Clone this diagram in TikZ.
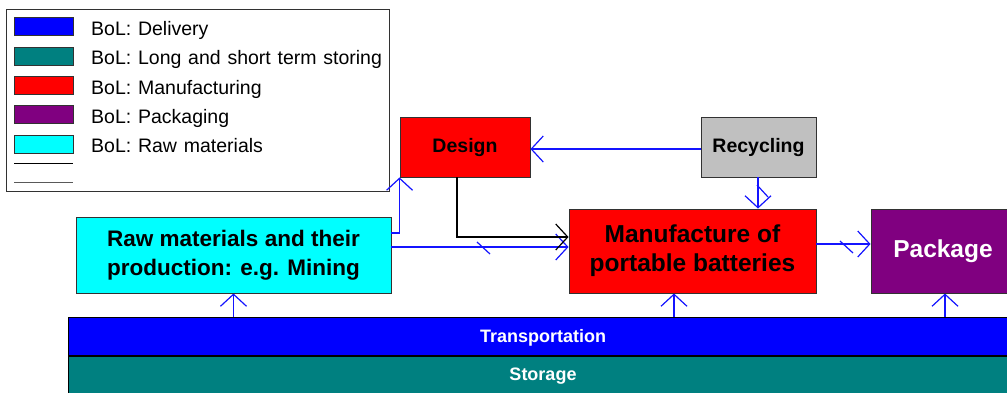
\documentclass[tikz,border=0pt]{standalone}
\usepackage{fontspec}
\setmainfont{Liberation Sans}
\newfontfamily\legendfont[WordSpace=1.25]{Liberation Sans}
\usetikzlibrary{arrows.meta,backgrounds,calc}

\definecolor{delblue}{RGB}{0,0,255}
\definecolor{stteal}{RGB}{0,128,128}
\definecolor{manred}{RGB}{255,0,0}
\definecolor{packpurple}{RGB}{128,0,128}
\definecolor{rawcyan}{RGB}{0,255,255}
\definecolor{recgrey}{RGB}{192,192,192}
\definecolor{edge}{RGB}{50,50,50}
\definecolor{flow}{RGB}{20,20,255}

\tikzset{
  box/.style={draw=edge, line width=0.9pt, align=center, inner sep=0pt, font=\bfseries},
  swatch/.style={draw=edge, line width=0.8pt, minimum width=59pt, minimum height=18pt, inner sep=0pt},
  legtext/.style={anchor=base west, inner sep=0pt, font=\legendfont\fontsize{19.5}{21}\selectfont},
  flowarr/.style={draw=flow, line width=1.2pt, -{Straight Barb[length=12pt,width=26pt,line width=1.2pt]}},
  blackarr/.style={draw=black, line width=1.2pt, -{Straight Barb[length=12pt,width=26pt,line width=1.2pt]}},
  tick/.style={draw=flow, line width=1.2pt},
  bar/.style={draw=black, line width=0.9pt, inner sep=0pt, text=white, text depth=0pt, font=\bfseries\fontsize{18}{20}\selectfont}
}

\begin{document}
\begin{tikzpicture}[x=1pt,y=-1pt]
\useasboundingbox (0,0) rectangle (1007,392);
\clip (0,0) rectangle (1007,392);

% legend
\node[draw=edge, line width=0.9pt, minimum width=383pt, minimum height=182pt, inner sep=0pt, anchor=north west] (leg) at (6,9) {};
\node[swatch, fill=delblue, anchor=north west] (s1) at (14,17) {};
\node[swatch, fill=stteal, anchor=north west] (s2) at (14,46.5) {};
\node[swatch, fill=manred, anchor=north west] (s3) at (14,76) {};
\node[swatch, fill=packpurple, anchor=north west] (s4) at (14,105) {};
\node[swatch, fill=rawcyan, anchor=north west] (s5) at (14,134.5) {};
\node[legtext] (t1) at (91,35) {BoL: Delivery};
\node[legtext] (t2) at (91,64.5) {BoL: Long and short term storing};
\node[legtext] (t3) at (91,94) {BoL: Manufacturing};
\node[legtext] (t4) at (91,123) {BoL: Packaging};
\node[legtext] (t5) at (91,152.5) {BoL: Raw materials};
\coordinate (l1a) at (14,163); \coordinate (l1b) at (73,163);
\coordinate (l2a) at (14,182); \coordinate (l2b) at (73,182);
\draw[black, line width=0.9pt] (l1a) -- (l1b);
\draw[black!65, line width=0.9pt] (l2a) -- (l2b);

% process boxes
\node[box, fill=manred, minimum width=130pt, minimum height=60pt, font=\bfseries\fontsize{19.5}{22}\selectfont] (des) at (465,147) {Design};
\node[box, fill=recgrey, minimum width=115pt, minimum height=60pt, font=\bfseries\fontsize{19.5}{22}\selectfont] (rec) at (758.5,147) {Recycling};
\node[box, fill=manred, minimum width=247pt, minimum height=84pt, font=\bfseries\fontsize{24.5}{29}\selectfont] (man) at (692.5,251) {Manufacture of\\portable batteries};
\node[box, fill=rawcyan, minimum width=315pt, minimum height=76pt, font=\bfseries\fontsize{22.5}{29}\selectfont] (raw) at (233.5,255) {Raw materials and their\\production: e.g. Mining};
\node[box, fill=packpurple, text=white, minimum width=144pt, minimum height=84pt, font=\bfseries\fontsize{24.5}{29}\selectfont] (pkg) at (943,251) {Package};

% transport and storage bars
\node[bar, fill=delblue, minimum width=950pt, minimum height=38pt] (tr) at (543,336) {Transportation};
\node[bar, fill=stteal, minimum width=950pt, minimum height=37pt] (st) at (543,374.5) {Storage};

% flows fed from the bars
\begin{scope}[on background layer]
\draw[flowarr] (raw.south |- st.north) -- (raw.south);
\draw[flowarr] ([xshift=-18.5pt]man.south |- st.north) -- ([xshift=-18.5pt]man.south);
\draw[flowarr] ([xshift=2pt]pkg.south |- st.north) -- ([xshift=2pt]pkg.south);
\end{scope}

% material and information flows
\draw[flowarr] ([yshift=22pt]raw.east) -| (des.south west);
\draw[flowarr] ([yshift=8pt]raw.east) -- ([yshift=4pt]man.west);
\draw[blackarr] ([xshift=-8pt]des.south) |- ([yshift=14pt]man.west);
\draw[flowarr] ([yshift=-2pt]rec.west) -- ([yshift=-2pt]des.east);
\draw[flowarr] ([xshift=-0.5pt]rec.south) -- ([xshift=-0.5pt]rec.south |- man.north);
\draw[flowarr] ([yshift=7pt]man.east) -- ([yshift=7pt]man.east -| pkg.west);

% flow marks
\coordinate (k1a) at (477,242); \coordinate (k1b) at (490,254);
\coordinate (k2a) at (840,241); \coordinate (k2b) at (853,253);
\coordinate (k3a) at (757,185); \coordinate (k3b) at (768,197);
\draw[tick] (k1a) -- (k1b);
\draw[tick] (k2a) -- (k2b);
\draw[tick] (k3a) -- (k3b);
\end{tikzpicture}
\end{document}
